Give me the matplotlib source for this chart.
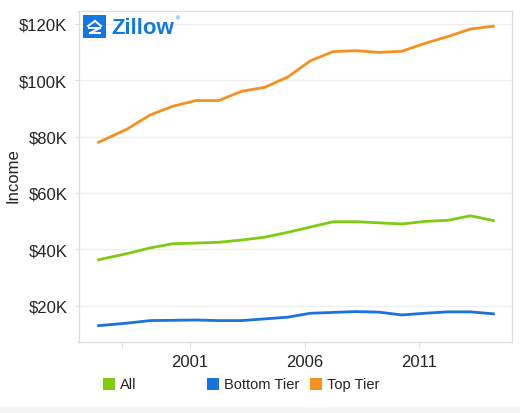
import matplotlib
matplotlib.use("Agg")
import matplotlib.pyplot as plt
from matplotlib.patches import Rectangle
from matplotlib.lines import Line2D

plt.rcParams['font.family'] = ['Liberation Sans', 'DejaVu Sans']

# Data, x in fractional years, values in $K
years = [1997.0, 1998.25, 1999.25, 2000.25, 2001.25, 2002.25, 2003.25, 2004.25,
         2005.25, 2006.25, 2007.25, 2008.25, 2009.25, 2010.25, 2011.25, 2012.25,
         2013.25, 2014.25]
all_income = [36.3, 38.5, 40.5, 42.0, 42.2, 42.5, 43.3, 44.3, 46.0, 47.9, 49.8,
              49.8, 49.4, 49.0, 49.9, 50.3, 51.9, 50.2]
bottom_tier = [12.9, 13.8, 14.7, 14.8, 14.9, 14.7, 14.7, 15.3, 15.9, 17.3, 17.6,
               17.9, 17.7, 16.7, 17.3, 17.8, 17.8, 17.1]
top_tier = [78.0, 82.7, 87.7, 90.8, 92.8, 92.8, 96.1, 97.5, 101.1, 106.9, 110.2,
            110.5, 109.9, 110.3, 113.1, 115.5, 118.2, 119.2]

series_names = ['All', 'Bottom Tier', 'Top Tier']
series_colors = ['#7ecb12', '#1a72e0', '#f8901f']
y_ticks = [20, 40, 60, 80, 100, 120]
y_tick_labels = ['$20K', '$40K', '$60K', '$80K', '$100K', '$120K']
x_ticks = [2001, 2006, 2011]
x_tick_labels = ['2001', '2006', '2011']

W, H = 520, 414
fig = plt.figure(figsize=(W / 100, H / 100), dpi=100)
fig.patch.set_facecolor('white')

def fx(px):
    return px / W

def fy(py):
    return 1 - py / H

# bottom grey band
fig.patches.append(Rectangle((0, 0), 1, fy(408), transform=fig.transFigure,
                             facecolor='#f3f3f3', edgecolor='none', zorder=0))

left, right, top, bottom = 78.5, 511.7, 11.7, 343
ax = fig.add_axes([fx(left), fy(bottom), fx(right - left), (bottom - top) / H])

for vals, c in zip([all_income, bottom_tier, top_tier], series_colors):
    ax.plot(years, vals, color=c, lw=2.0, solid_joinstyle='round', zorder=3)

ax.set_xlim(1996.12, 2015.05)
ax.set_ylim(7.1, 124.7)
ax.set_yticks(y_ticks)
ax.set_yticklabels(y_tick_labels)
ax.set_xticks(x_ticks)
ax.set_xticklabels(x_tick_labels)
ax.set_xticks([1998], minor=True)
ax.tick_params(axis='y', length=3, width=0.8, color='#dddddd', pad=5,
               labelsize=12, labelcolor='#222222')
ax.tick_params(axis='x', length=4, width=0.8, color='#dddddd', pad=5,
               labelsize=12, labelcolor='#222222')
ax.tick_params(axis='x', which='minor', length=4, width=0.8, color='#dddddd')
ax.grid(axis='y', color='#eeeeee', lw=0.9)
ax.set_axisbelow(True)
for s in ax.spines.values():
    s.set_color('#dddddd')
    s.set_linewidth(0.9)

fig.text(fx(13), fy(176), 'Income', rotation=90, ha='center', va='center',
         fontsize=12, color='#222222')

# Zillow logo
fig.patches.append(Rectangle((fx(83), fy(39)), fx(23), 23 / H, transform=fig.transFigure,
                             facecolor='#1277e1', edgecolor='none', zorder=5))
for (x0, y0, x1, y1) in [(88, 27, 95, 22), (95, 22, 101, 27), (89, 29, 100, 29),
                         (100, 29, 90, 34), (90, 34, 100, 34)]:
    fig.add_artist(Line2D([fx(x0), fx(x1)], [fy(y0), fy(y1)], transform=fig.transFigure,
                          color='white', lw=1.4, zorder=6))
fig.text(fx(111), fy(28), 'Zillow', ha='left', va='center', fontsize=16,
         fontweight='bold', color='#1277e1')
fig.text(fx(176), fy(19), '®', ha='left', va='center', fontsize=4, color='#1277e1')

# Legend
legend_x = [103, 207, 310]
for name, c, lx in zip(series_names, series_colors, legend_x):
    fig.patches.append(Rectangle((fx(lx), fy(391)), fx(12), 12 / H,
                                 transform=fig.transFigure, facecolor=c,
                                 edgecolor='none'))
    fig.text(fx(lx + 17), fy(385.5), name, ha='left', va='center', fontsize=10.5,
             color='#222222')

fig.savefig('out.png', dpi=100)
